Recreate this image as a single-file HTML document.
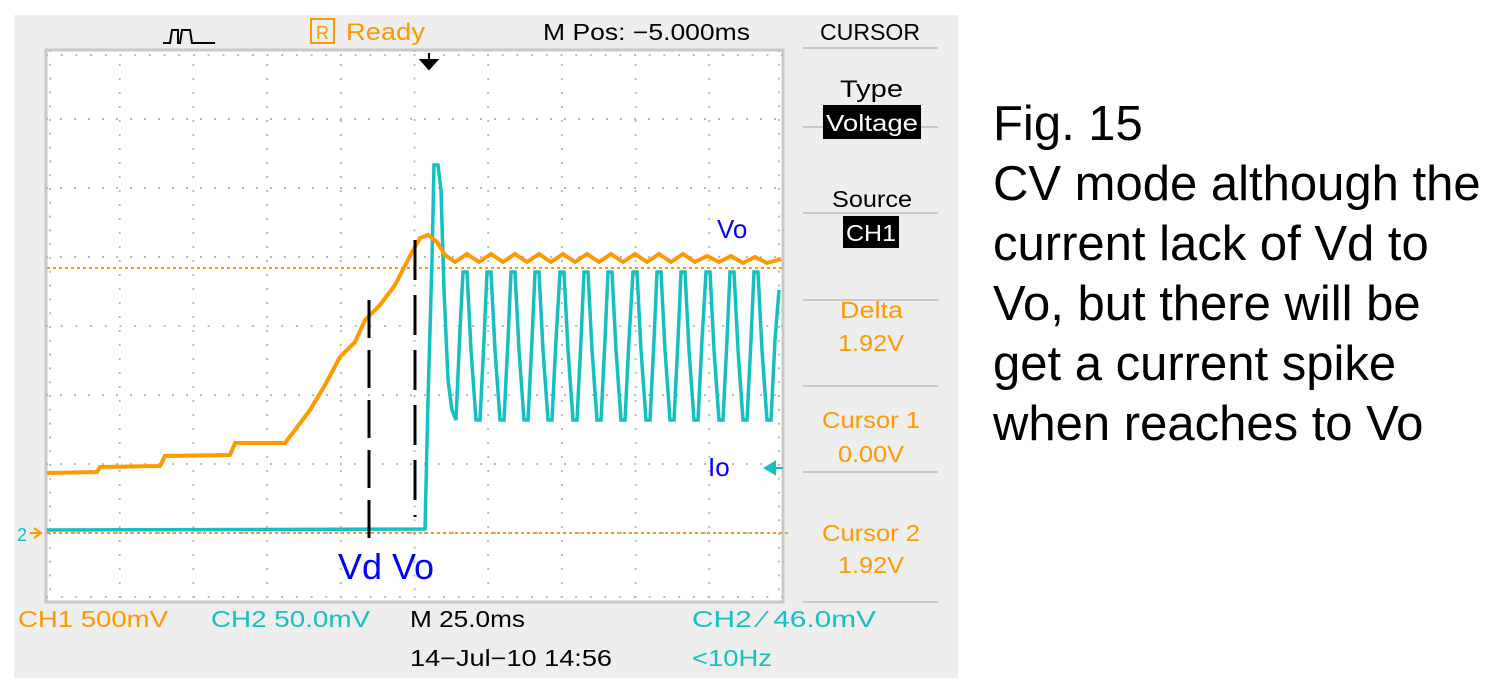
<!DOCTYPE html>
<html><head><meta charset="utf-8"><style>
body{margin:0;width:1499px;height:695px;background:#fff;overflow:hidden}
svg text{font-family:"Liberation Sans",sans-serif}
</style></head><body>
<svg width="1499" height="695" viewBox="0 0 1499 695" xmlns="http://www.w3.org/2000/svg">
<rect x="14" y="15" width="944" height="663" fill="#eeeeee"/>
<rect x="46" y="50" width="737" height="552" fill="#fff" stroke="#c8c8c8" stroke-width="3"/>
<g stroke="#bbb" stroke-width="2" stroke-dasharray="2,12">
<line x1="119.7" y1="64" x2="119.7" y2="602"/><line x1="193.4" y1="64" x2="193.4" y2="602"/><line x1="267.1" y1="64" x2="267.1" y2="602"/><line x1="340.8" y1="64" x2="340.8" y2="602"/><line x1="488.2" y1="64" x2="488.2" y2="602"/><line x1="561.9" y1="64" x2="561.9" y2="602"/><line x1="635.6" y1="64" x2="635.6" y2="602"/><line x1="709.3" y1="64" x2="709.3" y2="602"/>
<line x1="46" y1="119" x2="783" y2="119"/><line x1="46" y1="188" x2="783" y2="188"/><line x1="46" y1="257" x2="783" y2="257"/><line x1="46" y1="395" x2="783" y2="395"/><line x1="46" y1="464" x2="783" y2="464"/><line x1="46" y1="533" x2="783" y2="533"/>
</g>
<g stroke="#bbb" stroke-width="2" stroke-dasharray="2,12.7">
<line x1="46" y1="326" x2="783" y2="326"/>
<line x1="414.5" y1="50" x2="414.5" y2="602" stroke-dasharray="2,11.8"/>
<line x1="46" y1="55" x2="783" y2="55"/><line x1="46" y1="597" x2="783" y2="597"/>
</g>
<g stroke="#bbb" stroke-width="2" stroke-dasharray="2,11.8">
<line x1="50" y1="50" x2="50" y2="602"/><line x1="779" y1="50" x2="779" y2="602"/>
</g>
<line x1="47" y1="268" x2="782" y2="268" stroke="#f90" stroke-width="2" stroke-dasharray="3,3"/>
<line x1="47" y1="533" x2="790" y2="533" stroke="#f90" stroke-width="2" stroke-dasharray="3,3"/>
<!-- cyan -->
<path d="M47,530 L425,529 L428,400 L432,260 L434,165 L438,165 L441,190 L444,290 L448,380 L452,410 L456,420 L460,330 L463,272 L467,272 L471,350 L476,420 L480,420 L484,340 L487,272 L491,272 L495,350 L500,420 L504,420 L508,340 L511,272 L515,272 L519,350 L524,420 L528,420 L532,340 L535,272 L539,272 L543,350 L548,420 L552,420 L556,340 L560,272 L564,272 L568,350 L573,420 L577,420 L581,340 L584,272 L588,272 L592,350 L597,420 L601,420 L605,340 L608,272 L612,272 L616,350 L621,420 L625,420 L629,340 L633,272 L637,272 L641,350 L646,420 L650,420 L654,340 L657,272 L661,272 L665,350 L670,420 L674,420 L678,340 L681,272 L685,272 L689,350 L694,420 L698,420 L702,340 L706,272 L710,272 L714,350 L719,420 L723,420 L727,340 L730,272 L734,272 L738,350 L743,420 L747,420 L751,340 L754,272 L758,272 L762,350 L767,420 L771,420 L775,340 L779,290" fill="none" stroke="#14c0c0" stroke-width="3.5"/>
<!-- orange -->
<path d="M47,473 L97,472 L100,467 L160,466 L165,456 L230,455 L235,443 L285,443 L295,430 L310,410 L325,385 L340,357 L355,342 L365,320 L380,305 L395,285 L410,256 L420,238 L428,235 L437,242 L445,255 L455,262 L467,254 L479,262 L491,254 L503,262 L515,254 L527,262 L539,254 L551,262 L563,254 L575,262 L587,254 L599,262 L611,254 L623,262 L635,254 L647,262 L659,254 L671,262 L683,254 L695,262 L707,256 L719,262 L731,256 L743,263 L755,257 L767,263 L781,259" fill="none" stroke="#f90" stroke-width="4"/>
<line x1="369" y1="300" x2="369" y2="540" stroke="#000" stroke-width="3" stroke-dasharray="38,12"/>
<line x1="415" y1="240" x2="415" y2="517" stroke="#000" stroke-width="3" stroke-dasharray="40,15"/>
<path d="M429,53 L429,62 M421,60 L437,60 L429,69 Z" stroke="#000" stroke-width="2" fill="#000"/>
<path d="M163,43 L170,43 L172,30 L178,30 L178,43 L180,43 L182,30 L190,30 L192,43 L215,43" stroke="#000" stroke-width="2" fill="none"/>
<rect x="311" y="19" width="23" height="24" fill="none" stroke="#f90" stroke-width="2"/>
<text x="322.5" y="39" font-size="18" fill="#f90" text-anchor="middle">R</text>
<g lengthAdjust="spacingAndGlyphs">
<text x="346" y="40" font-size="24" fill="#f90" textLength="79" lengthAdjust="spacingAndGlyphs">Ready</text>
<text x="543" y="40" font-size="23" fill="#000" textLength="207" lengthAdjust="spacingAndGlyphs">M Pos: −5.000ms</text>
<text x="820" y="40" font-size="23" fill="#000" textLength="100" lengthAdjust="spacingAndGlyphs">CURSOR</text>
</g>
<g stroke="#c8c8c8" stroke-width="2">
<line x1="803" y1="48" x2="938" y2="48"/><line x1="803" y1="127" x2="938" y2="127"/><line x1="803" y1="213" x2="938" y2="213"/><line x1="803" y1="300" x2="938" y2="300"/><line x1="803" y1="386" x2="938" y2="386"/><line x1="803" y1="472" x2="938" y2="472"/><line x1="803" y1="602" x2="938" y2="602"/>
</g>
<text x="840" y="97" font-size="24" fill="#000" textLength="63" lengthAdjust="spacingAndGlyphs">Type</text>
<rect x="823" y="105" width="98" height="34" fill="#000"/>
<text x="826" y="131" font-size="23" fill="#fff" textLength="92" lengthAdjust="spacingAndGlyphs">Voltage</text>
<text x="832" y="207" font-size="23" fill="#000" textLength="80" lengthAdjust="spacingAndGlyphs">Source</text>
<rect x="843" y="216" width="56" height="32" fill="#000"/>
<text x="846" y="241" font-size="23" fill="#fff" textLength="50" lengthAdjust="spacingAndGlyphs">CH1</text>
<g fill="#f90" font-size="23">
<text x="840" y="318" textLength="63" lengthAdjust="spacingAndGlyphs">Delta</text><text x="838" y="351" textLength="66" lengthAdjust="spacingAndGlyphs">1.92V</text>
<text x="822" y="428" textLength="98" lengthAdjust="spacingAndGlyphs">Cursor 1</text><text x="838" y="462" textLength="66" lengthAdjust="spacingAndGlyphs">0.00V</text>
<text x="822" y="541" textLength="98" lengthAdjust="spacingAndGlyphs">Cursor 2</text><text x="838" y="573" textLength="66" lengthAdjust="spacingAndGlyphs">1.92V</text>
</g>
<text x="717" y="238" font-size="26" fill="#00f">Vo</text>
<text x="708" y="476" font-size="26" fill="#00f">Io</text>
<path d="M765,468 L775,462 L775,474 Z M775,468 L783,468" fill="#14c0c0" stroke="#14c0c0" stroke-width="2"/>
<text x="17" y="541" font-size="18" fill="#14c0c0">2</text>
<path d="M30,533 L40,533 M34,528 L41,533 L34,538" stroke="#f90" stroke-width="2" fill="none"/>
<text x="338" y="579" font-size="36" fill="#00f">Vd Vo</text>
<text x="18" y="627" font-size="23" fill="#f90" textLength="150" lengthAdjust="spacingAndGlyphs">CH1  500mV</text>
<text x="211" y="627" font-size="23" fill="#14c0c0" textLength="159" lengthAdjust="spacingAndGlyphs">CH2  50.0mV</text>
<text x="410" y="627" font-size="23" fill="#000" textLength="115" lengthAdjust="spacingAndGlyphs">M 25.0ms</text>
<text x="692" y="627" font-size="23" fill="#14c0c0" textLength="184" lengthAdjust="spacingAndGlyphs">CH2 ⁄ 46.0mV</text>
<text x="410" y="666" font-size="23" fill="#000" textLength="202" lengthAdjust="spacingAndGlyphs">14−Jul−10 14:56</text>
<text x="692" y="666" font-size="23" fill="#14c0c0" textLength="80" lengthAdjust="spacingAndGlyphs">&lt;10Hz</text>
<g font-size="49" fill="#000">
<text x="993" y="140">Fig. 15</text>
<text x="993" y="200">CV mode although the</text>
<text x="993" y="260">current lack of Vd to</text>
<text x="993" y="320">Vo, but there will be</text>
<text x="993" y="380">get a current spike</text>
<text x="993" y="440">when reaches to Vo</text>
</g>
</svg>
</body></html>
